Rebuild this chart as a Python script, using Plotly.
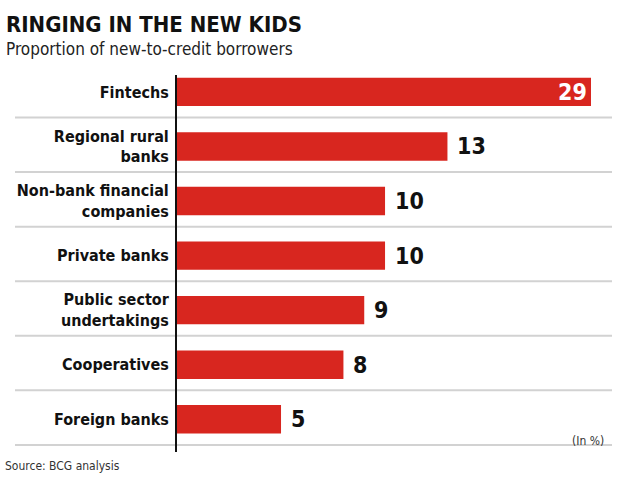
import plotly.graph_objects as go

categories = ["Fintechs", "Regional rural<br>banks", "Non-bank financial<br>companies",
              "Private banks", "Public sector<br>undertakings", "Cooperatives", "Foreign banks"]
values = [29, 13, 10, 10, 9, 8, 5]
value_labels = ["29", "13", "10", "10", "9", "8", "5"]

RED = "#d8261f"
NARROW = "DejaVu Sans Condensed"

L, R, T, B = 177, 29, 75, 27
W, H = 620, 479
pw, ph = W - L - R, H - T - B
def xp(px): return (px - L) / pw
def yp(py): return (H - B - py) / ph

XMAX = 19.9
positions = list(range(len(categories)))

fig = go.Figure(go.Bar(
    x=values, y=positions, orientation="h",
    marker=dict(color=RED, line=dict(width=0)),
    width=0.52, hoverinfo="skip",
))

shapes = []
for i in range(len(categories)):
    shapes.append(dict(type="line", xref="paper", yref="y",
                       x0=xp(15), x1=xp(612), y0=i + 0.47, y1=i + 0.47,
                       line=dict(color="#d2d2d2", width=2), layer="below"))

annotations = [
    dict(text="<b>RINGING IN THE NEW KIDS</b>", xref="paper", yref="paper",
         x=xp(4), y=yp(39), xanchor="left", yanchor="bottom", showarrow=False,
         font=dict(family=NARROW, size=22, color="#111111")),
    dict(text="Proportion of new-to-credit borrowers", xref="paper", yref="paper",
         x=xp(4), y=yp(49), xanchor="left", yanchor="middle", showarrow=False,
         font=dict(family=NARROW, size=17, color="#222222")),
    dict(text="(In %)", xref="paper", yref="paper",
         x=xp(606), y=yp(441), xanchor="right", yanchor="middle", showarrow=False,
         font=dict(family=NARROW, size=12, color="#333333")),
    dict(text="Source: BCG analysis", xref="paper", yref="paper",
         x=xp(3), y=yp(466), xanchor="left", yanchor="middle", showarrow=False,
         font=dict(family=NARROW, size=12, color="#333333")),
]
for v, t, p in zip(values, value_labels, positions):
    if v > XMAX:
        annotations.append(dict(text=t, xref="x", yref="y", x=XMAX, y=p,
                                xanchor="right", yanchor="middle", showarrow=False, xshift=-2,
                                font=dict(family=NARROW, size=23, color="white", weight="bold")))
    else:
        annotations.append(dict(text=t, xref="x", yref="y", x=v, y=p,
                                xanchor="left", yanchor="middle", showarrow=False, xshift=8,
                                font=dict(family=NARROW, size=23, color="#111111", weight="bold")))

fig.update_layout(
    width=W, height=H,
    margin=dict(l=L, r=R, t=T, b=B, pad=0, autoexpand=False),
    paper_bgcolor="white", plot_bgcolor="white",
    showlegend=False,
    shapes=shapes, annotations=annotations,
    xaxis=dict(range=[0, XMAX], visible=False, fixedrange=True),
    yaxis=dict(range=[6.6, -0.31], tickmode="array", tickvals=positions, ticktext=categories,
               showgrid=False, zeroline=False, showline=True, linecolor="#111111", linewidth=2,
               ticks="", ticklabelstandoff=3, automargin=False, fixedrange=True,
               tickfont=dict(family=NARROW, size=16, color="#111111", weight="bold")),
    bargap=0.4,
)

fig.write_html("out.html", config={"displayModeBar": False},
               post_script="document.body.style.margin='0';")
